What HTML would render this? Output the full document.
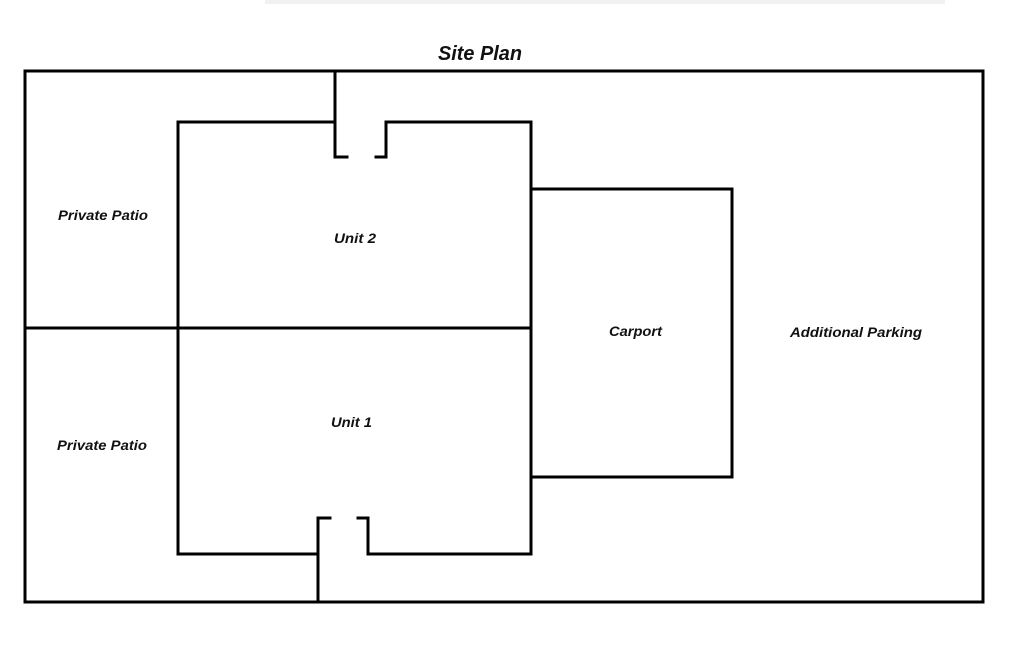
<!DOCTYPE html>
<html><head><meta charset="utf-8"><style>
html,body{margin:0;padding:0;background:#fff;width:1024px;height:657px;overflow:hidden}
svg{display:block}
text{font-family:"Liberation Sans",sans-serif;font-style:italic;font-weight:bold;fill:#111}
</style></head><body>
<svg width="1024" height="657" viewBox="0 0 1024 657">
<rect x="265" y="0" width="680" height="4" fill="#f1f1f1"/>
<text x="480" y="60" font-size="20" text-anchor="middle" textLength="84" lengthAdjust="spacingAndGlyphs">Site Plan</text>
<g fill="none" stroke="#000" stroke-width="3" stroke-linecap="square">
<rect x="25" y="71" width="958" height="531"/>
<polyline points="335,71 335,157 347,157"/>
<polyline points="376,157 386,157 386,122 531,122 531,554 368,554 368,518 358,518"/>
<polyline points="335,122 178,122 178,554 318,554"/>
<polyline points="318,602 318,518 330,518"/>
<line x1="25" y1="328" x2="531" y2="328"/>
<polyline points="531,189 732,189 732,477 531,477"/>
</g>
<g font-size="14">
<text x="58" y="220" textLength="90" lengthAdjust="spacingAndGlyphs">Private Patio</text>
<text x="57" y="450" textLength="90" lengthAdjust="spacingAndGlyphs">Private Patio</text>
<text x="334" y="243" textLength="42" lengthAdjust="spacingAndGlyphs">Unit 2</text>
<text x="331" y="427" textLength="41" lengthAdjust="spacingAndGlyphs">Unit 1</text>
<text x="609" y="336" textLength="53" lengthAdjust="spacingAndGlyphs">Carport</text>
<text x="790" y="337" textLength="132" lengthAdjust="spacingAndGlyphs">Additional Parking</text>
</g>
</svg>
</body></html>
